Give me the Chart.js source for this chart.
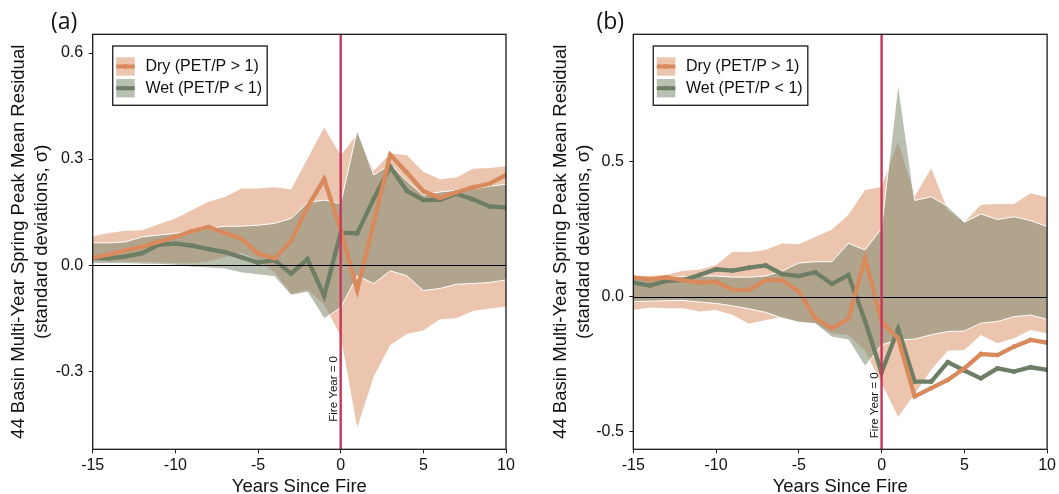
<!DOCTYPE html>
<html>
<head>
<meta charset="utf-8">
<script src="https://cdn.jsdelivr.net/npm/chart.js@4.4.1/dist/chart.umd.min.js"></script>
<style>
  html, body { margin: 0; padding: 0; background: #ffffff; }
  #wrap { position: relative; width: 1059px; height: 494px; overflow: hidden; }
  .panel { position: absolute; top: 0; }
  #panelA { left: 0; }
  #panelB { left: 530px; }
</style>
</head>
<body>
<div id="wrap">
  <div class="panel" id="panelA"><canvas id="chartA" width="530" height="494"></canvas></div>
  <div class="panel" id="panelB"><canvas id="chartB" width="529" height="494"></canvas></div>
</div>
<script>
// years relative to the fire year
const years = [-15, -14, -13, -12, -11, -10, -9, -8, -7, -6, -5, -4, -3, -2, -1, 0, 1, 2, 3, 4, 5, 6, 7, 8, 9, 10];
const xTicks = [-15, -10, -5, 0, 5, 10];

// panel (a)
const dryMeanA = [0.021, 0.030, 0.042, 0.052, 0.066, 0.080, 0.096, 0.108, 0.091, 0.074, 0.033, 0.019, 0.068, 0.165, 0.243, 0.100, -0.070, 0.120, 0.312, 0.262, 0.209, 0.190, 0.206, 0.220, 0.230, 0.255];
const wetMeanA = [0.021, 0.019, 0.025, 0.034, 0.058, 0.061, 0.055, 0.045, 0.037, 0.022, 0.007, 0.014, -0.024, 0.017, -0.087, 0.092, 0.090, 0.188, 0.278, 0.210, 0.184, 0.185, 0.202, 0.186, 0.166, 0.163];
const dryUpperA = [0.082, 0.091, 0.097, 0.099, 0.116, 0.132, 0.155, 0.179, 0.193, 0.217, 0.217, 0.220, 0.214, 0.302, 0.389, 0.311, 0.370, 0.266, 0.316, 0.311, 0.264, 0.243, 0.248, 0.273, 0.275, 0.280];
const dryLowerA = [0.012, 0.010, 0.010, 0.008, 0.008, 0.005, 0.005, 0.010, 0.022, 0.035, 0.015, -0.020, -0.082, -0.070, -0.112, -0.200, -0.460, -0.315, -0.226, -0.195, -0.185, -0.153, -0.150, -0.130, -0.123, -0.118];
const wetUpperA = [0.063, 0.063, 0.066, 0.080, 0.085, 0.090, 0.094, 0.104, 0.110, 0.110, 0.113, 0.118, 0.132, 0.177, 0.184, 0.174, 0.382, 0.255, 0.285, 0.238, 0.198, 0.207, 0.212, 0.216, 0.223, 0.229];
const wetLowerA = [0.004, 0.004, 0.004, 0.003, 0.002, 0.000, -0.006, -0.008, -0.011, -0.022, -0.027, -0.033, -0.085, -0.077, -0.152, -0.120, -0.030, -0.052, -0.016, -0.030, -0.072, -0.066, -0.054, -0.052, -0.049, -0.042];
const yTicksA = [-0.3, 0.0, 0.3, 0.6];

// panel (b)
const dryMeanB = [0.071, 0.064, 0.071, 0.061, 0.052, 0.055, 0.025, 0.025, 0.061, 0.061, 0.018, -0.080, -0.117, -0.082, 0.142, -0.092, -0.154, -0.369, -0.338, -0.308, -0.265, -0.212, -0.216, -0.185, -0.160, -0.170];
const wetMeanB = [0.052, 0.041, 0.058, 0.061, 0.080, 0.101, 0.096, 0.107, 0.115, 0.083, 0.076, 0.090, 0.047, 0.080, -0.090, -0.280, -0.119, -0.314, -0.314, -0.242, -0.273, -0.302, -0.265, -0.277, -0.261, -0.271];
const dryUpperB = [0.074, 0.077, 0.080, 0.096, 0.099, 0.117, 0.166, 0.164, 0.173, 0.196, 0.193, 0.220, 0.248, 0.302, 0.394, 0.405, 0.573, 0.370, 0.474, 0.320, 0.275, 0.339, 0.342, 0.342, 0.382, 0.367];
const dryLowerB = [-0.049, -0.040, -0.043, -0.043, -0.055, -0.049, -0.068, -0.100, -0.086, -0.075, -0.092, -0.099, -0.136, -0.142, -0.200, -0.320, -0.444, -0.360, -0.270, -0.200, -0.197, -0.142, -0.172, -0.154, -0.123, -0.135];
const wetUpperB = [0.068, 0.068, 0.071, 0.074, 0.076, 0.076, 0.072, 0.072, 0.076, 0.095, 0.124, 0.129, 0.129, 0.197, 0.172, 0.252, 0.790, 0.355, 0.369, 0.333, 0.275, 0.305, 0.285, 0.295, 0.281, 0.259];
const wetLowerB = [-0.018, -0.017, -0.015, -0.014, -0.020, -0.025, -0.034, -0.045, -0.058, -0.080, -0.095, -0.100, -0.150, -0.160, -0.258, -0.178, -0.160, -0.157, -0.141, -0.129, -0.127, -0.098, -0.092, -0.074, -0.068, -0.084];
const yTicksB = [-0.5, 0.0, 0.5];

const legendLabels = ["Dry (PET/P > 1)", "Wet (PET/P < 1)"];
const yTitleLines = ["44 Basin Multi-Year Spring Peak Mean Residual", "(standard deviations, \u03c3)"];
const xTitle = "Years Since Fire";
const fireLabel = "Fire Year = 0";

const DRY_LINE = "#d98a5d";
const DRY_BAND = "rgba(218,140,96,0.5)";
const WET_LINE = "#6e7e64";
const WET_BAND = "rgba(120,135,108,0.52)";
const FIRE_RED = "#c6365a";
const FONT = "'Liberation Sans', Arial, sans-serif";

function pts(values) {
  return years.map((yr, i) => ({ x: yr, y: values[i] }));
}

// frame, reference lines, legend and titles
const panelDecor = {
  id: "panelDecor",
  afterDatasetsDraw(chart) {
    const { ctx, chartArea, scales } = chart;
    ctx.save();
    const y0 = Math.round(scales.y.getPixelForValue(0)) + 0.5;
    ctx.strokeStyle = "#000000";
    ctx.lineWidth = 1.2;
    ctx.beginPath();
    ctx.moveTo(chartArea.left, y0);
    ctx.lineTo(chartArea.right, y0);
    ctx.stroke();

    const x0 = scales.x.getPixelForValue(0);
    ctx.strokeStyle = FIRE_RED;
    ctx.lineWidth = 2.4;
    ctx.beginPath();
    ctx.moveTo(x0, chartArea.top);
    ctx.lineTo(x0, chartArea.bottom);
    ctx.stroke();
    ctx.restore();
  },
  afterDraw(chart) {
    const cfg = chart.options.plugins.panelDecor;
    const { ctx, chartArea, scales } = chart;
    ctx.save();

    // plot frame
    ctx.strokeStyle = "#1a1a1a";
    ctx.lineWidth = 1.3;
    ctx.strokeRect(chartArea.left, chartArea.top, chartArea.right - chartArea.left, chartArea.bottom - chartArea.top);

    // fire year label
    const x0 = scales.x.getPixelForValue(0);
    ctx.save();
    ctx.translate(x0 - 3.6, scales.y.getPixelForValue(cfg.fireLabelAt));
    ctx.rotate(-Math.PI / 2);
    ctx.fillStyle = "#111111";
    ctx.font = "11.5px " + FONT;
    ctx.textAlign = "left";
    ctx.textBaseline = "alphabetic";
    ctx.fillText(fireLabel, 0, 0);
    ctx.restore();

    // legend
    const lx = chartArea.left + 20;
    const ly = 46;
    ctx.fillStyle = "#ffffff";
    ctx.fillRect(lx, ly, 154.5, 59.3);
    ctx.strokeStyle = "#2a2a2a";
    ctx.lineWidth = 1.4;
    ctx.strokeRect(lx, ly, 154.5, 59.3);
    const rows = [
      { band: DRY_BAND, line: DRY_LINE, top: ly + 11.3 },
      { band: WET_BAND, line: WET_LINE, top: ly + 33 }
    ];
    rows.forEach((row, i) => {
      ctx.fillStyle = row.band;
      ctx.fillRect(lx + 3.5, row.top, 18.5, 18.4);
      const cy = row.top + 9.2;
      ctx.strokeStyle = row.line;
      ctx.lineWidth = 4;
      ctx.beginPath();
      ctx.moveTo(lx + 3.5, cy);
      ctx.lineTo(lx + 22, cy);
      ctx.stroke();
      ctx.fillStyle = row.line;
      ctx.beginPath();
      ctx.arc(lx + 12.75, cy, 2.4, 0, Math.PI * 2);
      ctx.fill();
      ctx.fillStyle = "#111111";
      ctx.font = "16px " + FONT;
      ctx.textAlign = "left";
      ctx.textBaseline = "middle";
      ctx.fillText(legendLabels[i], lx + 32.7, cy + 0.5);
    });

    // axis titles
    ctx.fillStyle = "#111111";
    ctx.font = "18.5px " + FONT;
    ctx.textAlign = "center";
    ctx.textBaseline = "alphabetic";
    ctx.fillText(xTitle, (chartArea.left + chartArea.right) / 2, 492);

    const midY = (chartArea.top + chartArea.bottom) / 2;
    yTitleLines.forEach((line, i) => {
      ctx.save();
      ctx.translate(cfg.yTitleX[i], midY);
      ctx.rotate(-Math.PI / 2);
      ctx.textBaseline = "middle";
      ctx.fillText(line, 0, 0);
      ctx.restore();
    });

    // panel letter
    ctx.font = "23px 'Open Sans', 'Noto Sans', sans-serif";
    ctx.textAlign = "left";
    ctx.textBaseline = "alphabetic";
    ctx.fillText(cfg.letter, cfg.letterX, 29);
    ctx.restore();
  }
};

function makeChart(canvasId, series, layout) {
  const lineStyle = (color) => ({
    borderColor: color,
    backgroundColor: color,
    borderWidth: 4.3,
    pointRadius: 2.4,
    pointBorderWidth: 0,
    pointBackgroundColor: color,
    tension: 0,
    fill: false
  });
  const edge = (color, width) => ({
    borderColor: color,
    borderWidth: width,
    pointRadius: 0,
    tension: 0
  });

  return new Chart(document.getElementById(canvasId), {
    type: "line",
    data: {
      datasets: [
        Object.assign({ data: pts(series.dryMean), order: 0 }, lineStyle(DRY_LINE)),
        Object.assign({ data: pts(series.wetMean), order: 1 }, lineStyle(WET_LINE)),
        Object.assign({ data: pts(series.wetUpper), order: 3, fill: 3, backgroundColor: WET_BAND }, edge("#ffffff", 1)),
        Object.assign({ data: pts(series.wetLower), order: 2, fill: false }, edge("#ffffff", 1)),
        Object.assign({ data: pts(series.dryUpper), order: 5, fill: 5, backgroundColor: DRY_BAND }, edge("rgba(0,0,0,0)", 1)),
        Object.assign({ data: pts(series.dryLower), order: 4, fill: false }, edge("rgba(0,0,0,0)", 1))
      ]
    },
    options: {
      responsive: false,
      animation: false,
      events: [],
      layout: {
        padding: { left: 0, right: layout.padRight, top: 34.3, bottom: 0 }
      },
      plugins: {
        legend: { display: false },
        tooltip: { enabled: false },
        panelDecor: {
          letter: layout.letter,
          letterX: layout.letterX,
          yTitleX: layout.yTitleX,
          fireLabelAt: layout.fireLabelAt
        }
      },
      scales: {
        x: {
          type: "linear",
          min: -15,
          max: 10,
          afterBuildTicks(scale) {
            scale.ticks = xTicks.map((v) => ({ value: v }));
          },
          afterFit(scale) {
            scale.height = 44.7;
          },
          ticks: {
            color: "#111111",
            font: { family: FONT, size: 16 },
            padding: 3,
            maxRotation: 0,
            callback(value) {
              return String(value);
            }
          },
          grid: { drawOnChartArea: false, drawTicks: true, tickLength: 4, color: "#1a1a1a" },
          border: { display: false }
        },
        y: {
          type: "linear",
          min: layout.yMin,
          max: layout.yMax,
          afterBuildTicks(scale) {
            scale.ticks = layout.yTicks.map((v) => ({ value: v }));
          },
          afterFit(scale) {
            scale.width = layout.plotLeft;
          },
          ticks: {
            color: "#111111",
            font: { family: FONT, size: 16 },
            padding: 5.5,
            callback(value) {
              return Number(value).toFixed(1);
            }
          },
          grid: { drawOnChartArea: false, drawTicks: true, tickLength: 4, color: "#1a1a1a" },
          border: { display: false }
        }
      }
    },
    plugins: [panelDecor]
  });
}

makeChart("chartA", {
  dryMean: dryMeanA, wetMean: wetMeanA,
  dryUpper: dryUpperA, dryLower: dryLowerA,
  wetUpper: wetUpperA, wetLower: wetLowerA
}, {
  plotLeft: 92.7, padRight: 24, yMin: -0.521, yMax: 0.653, yTicks: yTicksA,
  letter: "(a)", letterX: 51, yTitleX: [18.5, 41.5], fireLabelAt: -0.443
});

makeChart("chartB", {
  dryMean: dryMeanB, wetMean: wetMeanB,
  dryUpper: dryUpperB, dryLower: dryLowerB,
  wetUpper: wetUpperB, wetLower: wetLowerB
}, {
  plotLeft: 103.3, padRight: 10.7, yMin: -0.564, yMax: 0.969, yTicks: yTicksB,
  letter: "(b)", letterX: 66.5, yTitleX: [31, 53.5], fireLabelAt: -0.523
});
</script>
</body>
</html>
